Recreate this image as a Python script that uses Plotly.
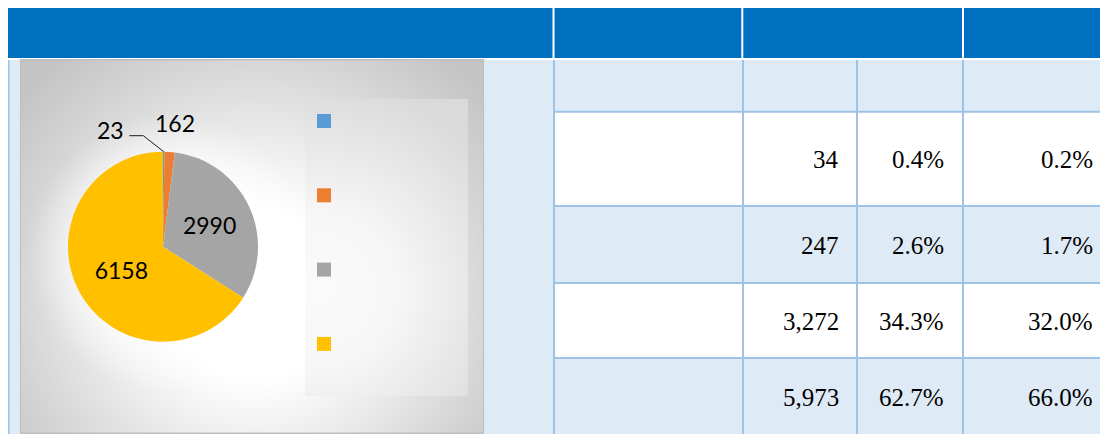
import base64
import math
import plotly.graph_objects as go

# ---------------- data ----------------
pie_values = [23, 162, 2990, 6158]
pie_colors = ["#5B9BD5", "#ED7D31", "#A5A5A5", "#FFC000"]

counts = [34, 247, 3272, 5973]
share_counts = [0.4, 2.6, 34.3, 62.7]
share_total = [0.2, 1.7, 32.0, 66.0]

# ---------------- geometry (page pixels; the page body has an 8px margin) ----------------
W, H = 1108, 434
OFF = 8


def px(x):
    return (x - OFF) / W


def py(y):
    return 1 - (y - OFF) / H


HEADER_BLUE = "#0070C0"
LIGHT = "#DEEAF6"
GRID = "#9DC3E6"

shapes = []


def rect(x0, y0, x1, y1, fill, layer="below"):
    shapes.append(dict(type="rect", xref="paper", yref="paper",
                       x0=px(x0), x1=px(x1), y0=py(y1), y1=py(y0),
                       fillcolor=fill, line=dict(width=0), layer=layer))


def line(x0, y0, x1, y1, color, width=2):
    shapes.append(dict(type="line", xref="paper", yref="paper",
                       x0=px(x0), x1=px(x1), y0=py(y0), y1=py(y1),
                       line=dict(color=color, width=width), layer="below"))


# header cells
for a, b in [(7, 552.5), (554.5, 741.3), (743.3, 962), (964, W + 20)]:
    rect(a, 7, b, 58, HEADER_BLUE)

# merged left cell (around the chart picture)
rect(7, 60, 19.5, H + 20, LIGHT)
rect(484.5, 60, 554, H + 20, LIGHT)
line(8.5, 60, 8.5, H + 20, GRID)

# right-hand body rows
row_edges = [60, 111.7, 206, 283, 358, 434]
row_fill = [LIGHT, "white", LIGHT, "white", LIGHT]
for i in range(5):
    bottom = row_edges[i + 1] if i < 4 else H + 20
    rect(554, row_edges[i], W + 20, bottom, row_fill[i])
for yv in row_edges[1:-1]:
    line(554, yv, W + 20, yv, GRID)
col_edges = [554, 743, 857, 963]
for xv in col_edges:
    line(xv, 60, xv, H + 20, GRID)

# ---------------- chart picture background (gradient svg) ----------------
CX0, CY0, CW, CH = 19.5, 59, 465, 375
svg = f'''<svg xmlns="http://www.w3.org/2000/svg" width="{CW}" height="{CH}" viewBox="0 0 {CW} {CH}">
<defs>
<radialGradient id="bg" gradientUnits="userSpaceOnUse" cx="235.5" cy="235" r="305">
<stop offset="0" stop-color="#FFFFFF"/>
<stop offset="0.28" stop-color="#FFFFFF"/>
<stop offset="0.55" stop-color="#E8E8E8"/>
<stop offset="0.8" stop-color="#D3D3D3"/>
<stop offset="1" stop-color="#C4C4C4"/>
</radialGradient>
<radialGradient id="glow" gradientUnits="userSpaceOnUse" cx="150" cy="195" r="140">
<stop offset="0" stop-color="#FFFFFF" stop-opacity="0.9"/>
<stop offset="0.68" stop-color="#FFFFFF" stop-opacity="0.6"/>
<stop offset="1" stop-color="#FFFFFF" stop-opacity="0"/>
</radialGradient>
<radialGradient id="pa" gradientUnits="userSpaceOnUse" cx="300" cy="231" r="210">
<stop offset="0" stop-color="#FAFAFA"/>
<stop offset="0.35" stop-color="#F7F7F7"/>
<stop offset="1" stop-color="#DADADA"/>
</radialGradient>
</defs>
<rect x="0" y="0" width="{CW}" height="{CH}" fill="url(#bg)"/>
<rect x="0" y="0" width="{CW}" height="{CH}" fill="url(#glow)"/>
<rect x="285.5" y="40" width="163" height="297" fill="url(#pa)"/>
<rect x="0.75" y="0.75" width="{CW - 1.5}" height="{CH - 1.5}" fill="none" stroke="#BEBEBE" stroke-width="1.5"/>
</svg>'''
svg_uri = "data:image/svg+xml;base64," + base64.b64encode(svg.encode()).decode()

images = [dict(source=svg_uri, xref="paper", yref="paper",
               x=px(CX0), y=py(CY0), sizex=CW / W, sizey=CH / H,
               xanchor="left", yanchor="top", sizing="stretch", layer="below")]

# legend squares (no visible labels in the reference)
for i, c in enumerate(pie_colors):
    y0 = 114 + i * 74.3
    rect(317, y0, 331, y0 + 14, c)

# ---------------- pie ----------------
PCX, PCY, PR = 163, 246.7, 95
total = sum(pie_values)
fig = go.Figure()
fig.add_trace(go.Pie(
    values=pie_values,
    labels=["a", "b", "c", "d"],
    marker=dict(colors=pie_colors, line=dict(width=0)),
    sort=False, direction="clockwise", rotation=0,
    textinfo="value",
    textposition=["none", "none", "inside", "inside"],
    insidetextorientation="horizontal",
    textfont=dict(family="Lato", size=23, color="#000000"),
    domain=dict(x=[px(PCX - PR), px(PCX + PR)], y=[py(PCY + PR), py(PCY - PR)]),
    showlegend=False, hoverinfo="skip",
))

annotations = []
# outside labels for the two tiny slices
ang0 = math.radians(360 * (pie_values[0] / 2) / total)
ex, ey = PCX + PR * math.sin(ang0), PCY - PR * math.cos(ang0)
shapes.append(dict(type="path", xref="paper", yref="paper",
                   path=f"M{px(129.3)},{py(135.7)} L{px(143.3)},{py(135.7)} L{px(ex)},{py(ey)}",
                   line=dict(color="#1a1a1a", width=1), layer="above"))
annotations.append(dict(x=px(110.2), y=py(130.5), xref="paper", yref="paper",
                        xanchor="center", yanchor="middle",
                        text=str(pie_values[0]), showarrow=False,
                        font=dict(family="Lato", size=23, color="#000000")))
annotations.append(dict(x=px(175), y=py(123), xref="paper", yref="paper",
                        xanchor="center", yanchor="middle",
                        text=str(pie_values[1]), showarrow=False,
                        font=dict(family="Lato", size=23, color="#000000")))

# table numbers
right_edges = [841, 946, 1095]
row_centers = [(row_edges[i] + row_edges[i + 1]) / 2 for i in range(1, 5)]
for i in range(4):
    texts = [f"{counts[i]:,}", f"{share_counts[i]:.1f}%", f"{share_total[i]:.1f}%"]
    for t, xr in zip(texts, right_edges):
        annotations.append(dict(x=px(xr), y=py(row_centers[i] + 1), xref="paper", yref="paper",
                                text=t, showarrow=False, xanchor="right", yanchor="middle",
                                font=dict(family="Liberation Serif", size=25, color="#000000")))

fig.update_layout(
    width=W, height=H, margin=dict(l=0, r=0, t=0, b=0),
    paper_bgcolor="white", plot_bgcolor="white",
    shapes=shapes, images=images, annotations=annotations,
    showlegend=False,
)
fig.write_html("out.html")
